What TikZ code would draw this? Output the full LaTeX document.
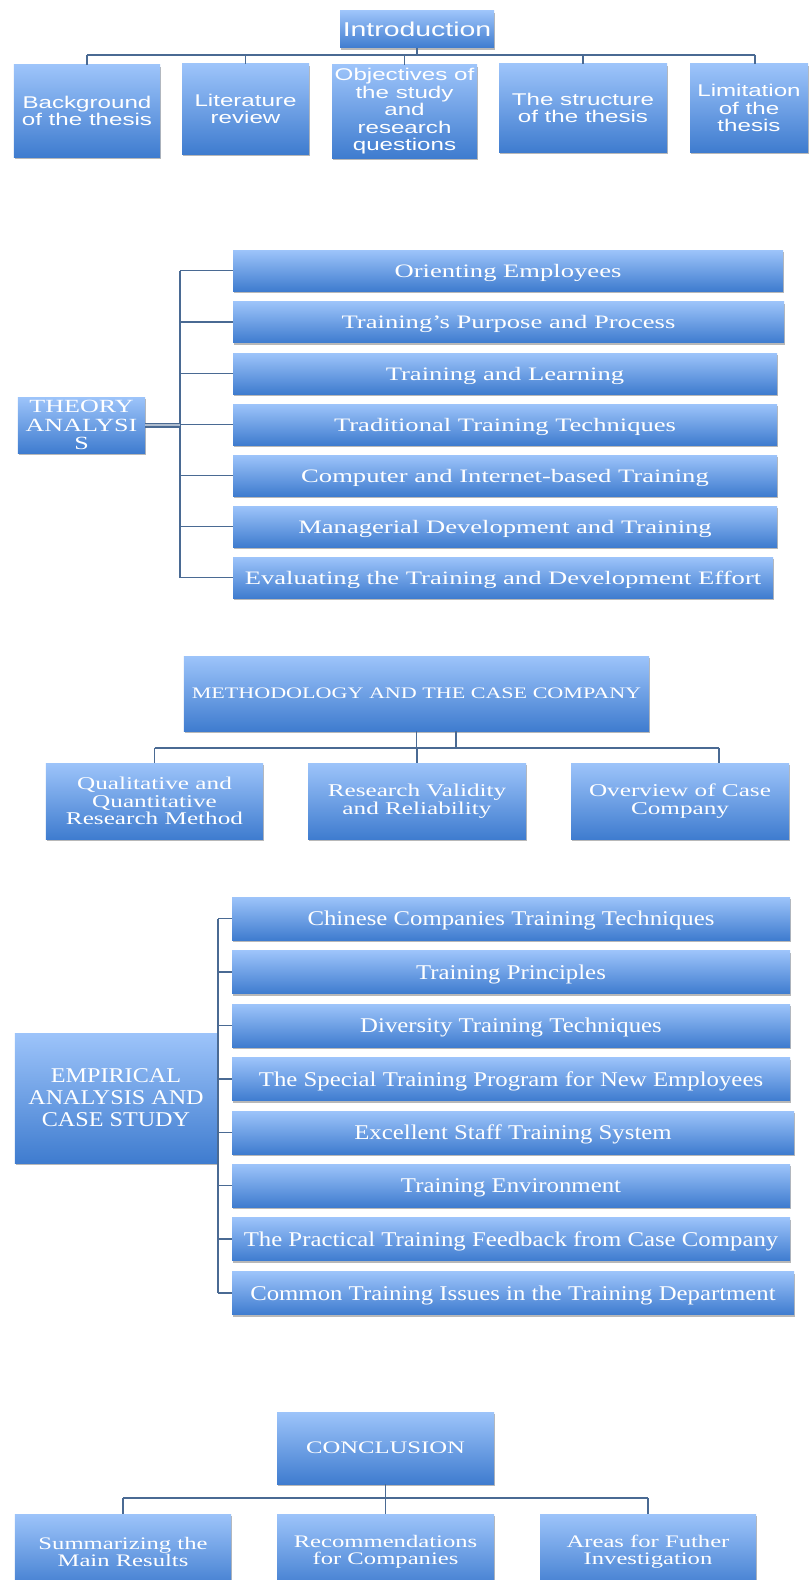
\documentclass[tikz,border=0pt]{standalone}
\usepackage{fontspec}
\usetikzlibrary{shadows,calc}
\newfontfamily\fA[FakeStretch=1.42]{Liberation Sans}
\newfontfamily\fB[FakeStretch=1.40]{Liberation Serif}
\newfontfamily\fC[FakeStretch=1.18]{Liberation Serif}
\newfontfamily\fD[FakeStretch=1.15]{Liberation Serif}
\newfontfamily\fE[FakeStretch=1.38]{Liberation Serif}
\definecolor{btop}{HTML}{9DC4FA}
\definecolor{bbot}{HTML}{3F7CCF}
\definecolor{lnc}{HTML}{4A6A93}
\tikzset{
  box/.style={draw=none, top color=btop, bottom color=bbot, text=white,
    inner sep=0pt, align=center,
    drop shadow={shadow xshift=1.2bp, shadow yshift=-2.2bp, opacity=0.28, fill=black}},
  oneline/.style={text depth=0pt},
  conn/.style={draw=lnc, line width=1.7bp},
  thickconn/.style={draw=lnc, line width=1.4bp, double=lnc!45, double distance=2.2bp},
  fsA/.style={font=\fA\fontsize{17bp}{17.5bp}\selectfont},
  fsAi/.style={font=\fA\fontsize{20bp}{21bp}\selectfont, oneline},
  fsB/.style={font=\fB\fontsize{19bp}{19bp}\selectfont, oneline},
  fsBt/.style={font=\fB\fontsize{18.6bp}{18.3bp}\selectfont},
  fsM/.style={font=\fE\fontsize{16bp}{17bp}\selectfont, oneline},
  fsMc/.style={font=\fB\fontsize{18bp}{17.5bp}\selectfont},
  fsC/.style={font=\fC\fontsize{21bp}{21bp}\selectfont, oneline},
  fsD/.style={font=\fD\fontsize{21bp}{22bp}\selectfont},
  fsK/.style={font=\fB\fontsize{17.6bp}{17bp}\selectfont},
  fsKo/.style={fsK, oneline},
}
\begin{document}
\begin{tikzpicture}[x=1bp,y=-1bp]
\fill[white] (0,0) rectangle (808,1580);
\useasboundingbox (0,0) rectangle (808,1580);

% ---------- Section 1 ----------
\node[box,fsAi,minimum width=154bp,minimum height=37bp] (intro) at (417,29.5) {Introduction};
\node[box,fsA,minimum width=146bp,minimum height=92bp] (bg) at (87,111) {Background\\of the thesis};
\node[box,fsA,minimum width=127bp,minimum height=90bp] (lit) at (245.5,109) {Literature\\review};
\node[box,fsA,minimum width=145bp,minimum height=93bp] (obj) at (404.5,111.5) {Objectives of\\the study\\and\\research\\questions};
\node[box,fsA,minimum width=168bp,minimum height=88bp] (str) at (583,108) {The structure\\of the thesis};
\node[box,fsA,minimum width=118bp,minimum height=88bp] (lim) at (749,108) {Limitation\\of the\\thesis};
\coordinate (j1) at (417,55);
\coordinate (limtop) at ($(lim.north)+(6,0)$);
\draw[conn] (intro) -- (j1);
\draw[conn] (j1 -| bg) -- (j1 -| limtop);
\draw[conn] (j1 -| bg) -- (bg);
\draw[conn] (j1 -| lit) -- (lit);
\draw[conn] (j1 -| obj) -- (obj);
\draw[conn] (j1 -| str) -- (str);
\draw[conn] (j1 -| limtop) -- (limtop);

% ---------- Section 2 ----------
\node[box,fsBt,minimum width=127bp,minimum height=56bp] (theory) at (81.5,425) {THEORY\\ANALYSI\\S};
\node[box,fsB,minimum width=550bp,minimum height=41bp] (c1) at (508,270.5) {Orienting Employees};
\node[box,fsB,minimum width=551bp,minimum height=41bp] (c2) at (508.5,322) {Training’s Purpose and Process};
\node[box,fsB,minimum width=544bp,minimum height=41bp] (c3) at (505,373.5) {Training and Learning};
\node[box,fsB,minimum width=544bp,minimum height=41bp] (c4) at (505,424.5) {Traditional Training Techniques};
\node[box,fsB,minimum width=544bp,minimum height=41bp] (c5) at (505,475.5) {Computer and Internet-based Training};
\node[box,fsB,minimum width=544bp,minimum height=41bp] (c6) at (505,526.5) {Managerial Development and Training};
\node[box,fsB,minimum width=540bp,minimum height=41bp] (c7) at (503,577.5) {Evaluating the Training and Development Effort};
\coordinate (b2) at (180,0);
\draw[conn] (c1.west -| b2) -- (c7.west -| b2);
\foreach \c in {c1,c2,c3,c4,c5,c6,c7}{
  \draw[conn] (\c.west -| b2) -- (\c.west);
}
\draw[thickconn] (theory.east) -- (theory.east -| b2);

% ---------- Section 3 ----------
\node[box,fsM,minimum width=465bp,minimum height=75bp] (meth) at (416.5,693.5) {METHODOLOGY AND THE CASE COMPANY};
\node[box,fsMc,minimum width=217bp,minimum height=76bp] (q) at (154.5,801) {Qualitative and\\Quantitative\\Research Method};
\node[box,fsMc,minimum width=218bp,minimum height=76bp] (r) at (417,801) {Research Validity\\and Reliability};
\node[box,fsMc,minimum width=218bp,minimum height=76bp] (o) at (680,801) {Overview of Case\\Company};
\coordinate (j3) at (417,748);
\coordinate (oc) at ($(o.north)+(39,0)$);
\coordinate (mc2) at ($(meth.south)+(39.5,0)$);
\draw[conn] (meth.south) -- (meth.south |- j3);
\draw[conn] (mc2) -- (mc2 |- j3);
\draw[conn] (j3 -| q) -- (j3 -| oc);
\draw[conn] (j3 -| q) -- (q);
\draw[conn] (j3 -| r) -- (r);
\draw[conn] (j3 -| oc) -- (oc);

% ---------- Section 4 ----------
\node[box,fsD,minimum width=202bp,minimum height=130bp] (emp) at (116,1098) {EMPIRICAL\\ANALYSIS AND\\CASE STUDY};
\node[box,fsC,minimum width=558bp,minimum height=43bp] (d1) at (511,918.5) {Chinese Companies Training Techniques};
\node[box,fsC,minimum width=558bp,minimum height=43bp] (d2) at (511,972) {Training Principles};
\node[box,fsC,minimum width=558bp,minimum height=43bp] (d3) at (511,1025.5) {Diversity Training Techniques};
\node[box,fsC,minimum width=558bp,minimum height=43bp] (d4) at (511,1079) {The Special Training Program for New Employees};
\node[box,fsC,minimum width=562bp,minimum height=43bp] (d5) at (513,1132.5) {Excellent Staff Training System};
\node[box,fsC,minimum width=558bp,minimum height=43bp] (d6) at (511,1185.5) {Training Environment};
\node[box,fsC,minimum width=558bp,minimum height=43bp] (d7) at (511,1239) {The Practical Training Feedback from Case Company};
\node[box,fsC,minimum width=562bp,minimum height=43bp] (d8) at (513,1293) {Common Training Issues in the Training Department};
\coordinate (b4) at (218,0);
\draw[conn] (d1.west -| b4) -- (d8.west -| b4);
\foreach \d in {d1,d2,d3,d4,d5,d6,d7,d8}{
  \draw[conn] (\d.west -| b4) -- (\d.west);
}

% ---------- Section 5 ----------
\node[box,fsKo,minimum width=217bp,minimum height=72bp] (conc) at (385.5,1448) {CONCLUSION};
\node[box,fsK,minimum width=216bp,minimum height=76bp] (e1) at (123,1552) {Summarizing the\\Main Results};
\node[box,fsK,minimum width=217bp,minimum height=76bp] (e2) at (385.5,1552) {Recommendations\\for Companies};
\node[box,fsK,minimum width=216bp,minimum height=76bp] (e3) at (648,1552) {Areas for Futher\\Investigation};
\coordinate (j5) at (386,1498);
\draw[conn] (conc.south) -- (conc.south |- j5);
\draw[conn] (j5 -| e1) -- (j5 -| e3);
\draw[conn] (j5 -| e1) -- (e1);
\draw[conn] (j5 -| e2) -- (e2);
\draw[conn] (j5 -| e3) -- (e3);
\end{tikzpicture}
\end{document}
